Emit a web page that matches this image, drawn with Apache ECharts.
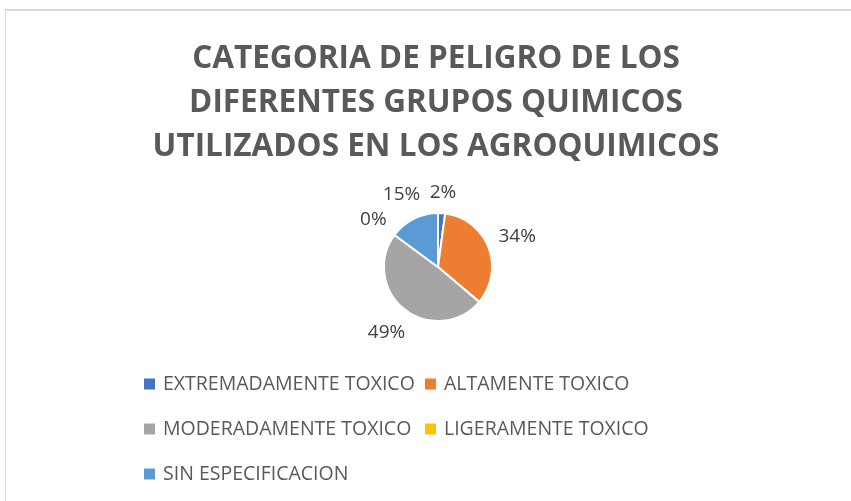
<!DOCTYPE html>
<html>

<head>
  <meta charset="utf-8">
  <style>
    html,
    body {
      width: 100%;
      height: 100%;
      margin: 0;
      padding: 0;
      overflow: hidden;
      background-color: #fff;
    }

    #frame {
      position: absolute;
      top: 9px;
      left: 5px;
      right: 0;
      bottom: 0;
      border-top: 2px solid #d9d9d9;
      border-left: 1px solid #d9d9d9;
    }

    #container {
      width: 851px;
      height: 501px;
      position: absolute;
      top: 0;
      left: 0;
    }
  </style>
</head>

<body>
  <div id="frame"></div>
  <div id="container"></div>

  <script src="https://cdn.jsdelivr.net/npm/echarts@6/dist/echarts.min.js"></script>
  <script>
    // datos
    var titulo = 'CATEGORIA DE PELIGRO DE LOS\nDIFERENTES GRUPOS QUIMICOS\nUTILIZADOS EN LOS AGROQUIMICOS';
    var categorias = ['EXTREMADAMENTE TOXICO', 'ALTAMENTE TOXICO', 'MODERADAMENTE TOXICO', 'LIGERAMENTE TOXICO', 'SIN ESPECIFICACION'];
    var valores = [1, 16, 23, 0, 7];
    var colores = ['#4472c4', '#ed7d31', '#a5a5a5', '#ffc000', '#5b9bd5'];

    // posiciones de la leyenda (columna, fila)
    var leyendaPos = [[142, 374], [423, 374], [142, 419], [423, 419], [142, 464]];

    var centro = [438, 267];
    var radio = 54;

    // angulo medio de cada sector (grados, sentido horario desde arriba)
    var total = valores.reduce(function (a, b) { return a + b; }, 0);
    var acum = 0;
    var angMedio = valores.map(function (v) {
      var a = (acum + v / 2) / total * 360;
      acum += v;
      return a;
    });

    var chart = echarts.init(document.getElementById('container'));

    var leyendas = categorias.map(function (nombre, i) {
      return {
        data: [nombre],
        left: leyendaPos[i][0],
        top: leyendaPos[i][1],
        padding: 0,
        orient: 'horizontal',
        itemWidth: 13,
        itemHeight: 13,
        itemGap: 6,
        icon: 'rect',
        selectedMode: false,
        textStyle: {
          fontFamily: 'Open Sans',
          fontSize: 19.5,
          color: '#595959',
          padding: [0, 0, 0, 2]
        }
      };
    });

    chart.setOption({
      animation: false,
      color: colores,
      title: {
        text: titulo,
        left: 431,
        textAlign: 'center',
        top: 32,
        textStyle: {
          fontFamily: 'Open Sans',
          fontWeight: 'bold',
          fontSize: 31.5,
          lineHeight: 44,
          color: '#595959'
        }
      },
      legend: leyendas,
      series: [{
        type: 'pie',
        center: centro,
        radius: radio,
        startAngle: 90,
        clockwise: true,
        minAngle: 0.01,
        avoidLabelOverlap: false,
        itemStyle: {
          borderColor: '#fff',
          borderWidth: 2
        },
        label: {
          show: true,
          position: 'outside',
          formatter: function (p) { return Math.round(p.percent) + '%'; },
          fontFamily: 'Open Sans',
          fontSize: 19,
          color: '#404040'
        },
        labelLine: {
          show: false,
          length: 8,
          length2: 0
        },
        // etiqueta fuera del borde, en la direccion del angulo medio
        labelLayout: function (p) {
          var a = angMedio[p.dataIndex] * Math.PI / 180;
          var dx = Math.sin(a), dy = -Math.cos(a);
          var w = p.labelRect.width, h = p.labelRect.height;
          var d = radio + Math.abs(dx) * w / 2 + Math.abs(dy) * h / 2 + 10;
          return {
            x: centro[0] + dx * d,
            y: centro[1] + dy * d,
            align: 'center',
            verticalAlign: 'middle'
          };
        },
        data: categorias.map(function (c, i) {
          return { name: c, value: valores[i] };
        })
      }]
    });
  </script>
</body>

</html>
